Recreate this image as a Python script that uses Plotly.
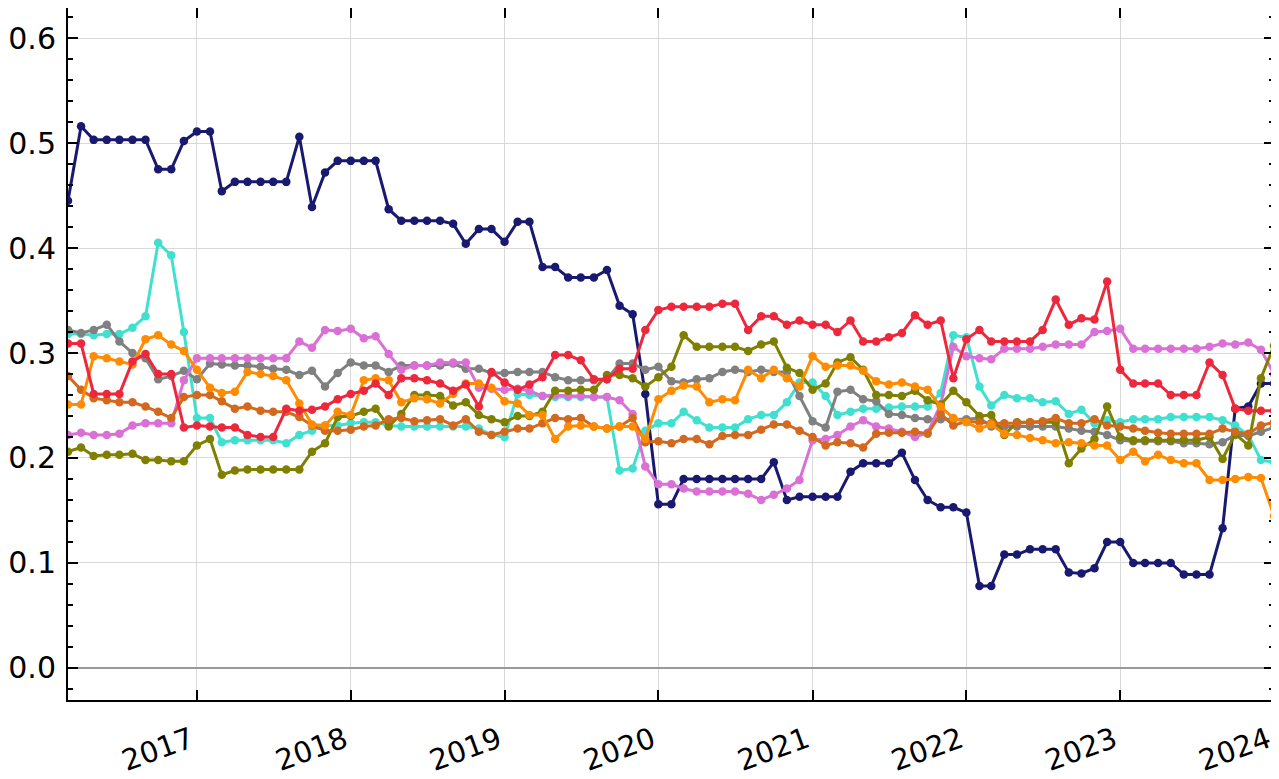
import pandas as pd
import plotly.graph_objects as go

dates = pd.date_range("2016-03-01", periods=95, freq="MS")
year_ticks = pd.date_range("2017-01-01", periods=8, freq="12MS")
year_labels = ["2017", "2018", "2019", "2020", "2021", "2022", "2023", "2024"]
y_ticks = [0.0, 0.1, 0.2, 0.3, 0.4, 0.5, 0.6]
y_labels = ["0.0", "0.1", "0.2", "0.3", "0.4", "0.5", "0.6"]

navy = [0.445,0.516,0.503,0.503,0.503,0.503,0.503,0.475,0.475,0.502,0.511,0.511,0.454,0.463,0.463,0.463,
        0.463,0.463,0.506,0.439,0.472,0.483,0.483,0.483,0.483,0.437,0.426,0.426,0.426,0.426,0.423,0.404,
        0.418,0.418,0.406,0.425,0.425,0.382,0.382,0.372,0.372,0.372,0.379,0.345,0.337,0.261,0.156,0.156,
        0.180,0.180,0.180,0.180,0.180,0.180,0.180,0.196,0.160,0.163,0.163,0.163,0.163,0.187,0.195,0.195,
        0.195,0.205,0.179,0.160,0.153,0.153,0.148,0.078,0.078,0.108,0.108,0.113,0.113,0.113,0.091,0.090,
        0.095,0.120,0.120,0.100,0.100,0.100,0.100,0.089,0.089,0.089,0.133,0.247,0.249,0.271,0.271]

turquoise = [0.318,0.318,0.317,0.318,0.318,0.324,0.335,0.405,0.393,0.320,0.238,0.238,0.215,0.217,0.217,0.217,
             0.217,0.214,0.222,0.226,0.231,0.231,0.233,0.234,0.234,0.231,0.230,0.230,0.230,0.230,0.230,0.230,
             0.228,0.222,0.220,0.261,0.260,0.259,0.258,0.258,0.258,0.258,0.258,0.188,0.190,0.226,0.233,0.233,
             0.244,0.236,0.229,0.229,0.229,0.237,0.241,0.241,0.253,0.272,0.272,0.259,0.241,0.244,0.247,0.247,
             0.248,0.249,0.249,0.249,0.262,0.317,0.315,0.268,0.250,0.260,0.257,0.257,0.253,0.254,0.242,0.246,
             0.233,0.236,0.234,0.237,0.237,0.237,0.239,0.239,0.239,0.239,0.236,0.231,0.222,0.198,0.196]

gray = [0.322,0.319,0.322,0.327,0.311,0.300,0.295,0.275,0.278,0.283,0.275,0.290,0.289,0.288,0.288,0.287,
        0.285,0.284,0.279,0.283,0.268,0.281,0.291,0.288,0.288,0.282,0.288,0.288,0.288,0.288,0.290,0.285,
        0.285,0.281,0.281,0.282,0.282,0.282,0.277,0.274,0.274,0.274,0.275,0.290,0.290,0.284,0.287,0.273,
        0.272,0.275,0.276,0.282,0.284,0.282,0.284,0.282,0.282,0.259,0.235,0.229,0.263,0.265,0.256,0.254,
        0.242,0.241,0.238,0.237,0.237,0.237,0.237,0.238,0.230,0.230,0.230,0.230,0.230,0.230,0.228,0.226,
        0.225,0.222,0.217,0.216,0.216,0.216,0.216,0.214,0.214,0.213,0.215,0.222,0.221,0.225,0.229]

red = [0.309,0.309,0.261,0.261,0.261,0.292,0.299,0.280,0.280,0.229,0.231,0.230,0.229,0.229,0.222,0.220,
       0.220,0.247,0.245,0.246,0.249,0.256,0.261,0.264,0.271,0.260,0.276,0.276,0.274,0.271,0.264,0.270,
       0.249,0.282,0.272,0.265,0.270,0.277,0.298,0.298,0.293,0.275,0.275,0.285,0.285,0.322,0.341,0.344,
       0.344,0.344,0.344,0.347,0.347,0.322,0.335,0.335,0.327,0.331,0.327,0.327,0.320,0.331,0.311,0.311,
       0.315,0.319,0.336,0.327,0.331,0.276,0.313,0.322,0.311,0.311,0.311,0.311,0.322,0.351,0.327,0.333,
       0.332,0.368,0.284,0.271,0.271,0.271,0.260,0.260,0.260,0.291,0.279,0.247,0.245,0.245,0.245]

orange = [0.251,0.251,0.297,0.295,0.292,0.289,0.313,0.317,0.308,0.302,0.284,0.267,0.262,0.263,0.282,0.280,
          0.278,0.274,0.252,0.232,0.231,0.244,0.241,0.274,0.276,0.274,0.253,0.257,0.256,0.252,0.261,0.271,
          0.271,0.267,0.254,0.252,0.241,0.241,0.218,0.230,0.231,0.230,0.228,0.230,0.230,0.218,0.256,0.264,
          0.269,0.268,0.253,0.256,0.255,0.284,0.276,0.284,0.276,0.268,0.297,0.287,0.288,0.288,0.283,0.273,
          0.270,0.272,0.268,0.265,0.249,0.238,0.234,0.228,0.232,0.223,0.222,0.219,0.217,0.214,0.215,0.214,
          0.212,0.212,0.198,0.206,0.197,0.203,0.198,0.195,0.195,0.179,0.179,0.180,0.182,0.181,0.145]

chocolate = [0.278,0.265,0.257,0.255,0.253,0.253,0.249,0.244,0.238,0.258,0.260,0.260,0.254,0.247,0.249,0.245,
             0.244,0.244,0.239,0.231,0.226,0.226,0.227,0.230,0.231,0.237,0.238,0.235,0.236,0.237,0.231,0.237,
             0.225,0.222,0.225,0.228,0.228,0.233,0.238,0.237,0.238,0.230,0.228,0.230,0.238,0.215,0.216,0.214,
             0.218,0.218,0.213,0.221,0.222,0.222,0.227,0.232,0.232,0.226,0.220,0.212,0.215,0.214,0.210,0.223,
             0.224,0.224,0.225,0.223,0.242,0.231,0.235,0.234,0.233,0.233,0.233,0.234,0.235,0.238,0.233,0.233,
             0.237,0.231,0.230,0.228,0.226,0.224,0.223,0.223,0.223,0.223,0.228,0.225,0.223,0.231,0.234]

orchid = [0.222,0.224,0.222,0.222,0.223,0.231,0.233,0.233,0.233,0.274,0.295,0.295,0.295,0.295,0.295,0.295,
          0.295,0.295,0.311,0.305,0.322,0.321,0.323,0.314,0.316,0.299,0.284,0.288,0.288,0.291,0.291,0.291,
          0.267,0.266,0.265,0.266,0.264,0.259,0.260,0.259,0.259,0.258,0.258,0.255,0.242,0.192,0.175,0.175,
          0.171,0.168,0.168,0.168,0.168,0.166,0.160,0.165,0.171,0.179,0.217,0.218,0.222,0.230,0.236,0.230,
          0.228,0.225,0.220,0.224,0.251,0.306,0.297,0.295,0.294,0.304,0.304,0.304,0.306,0.308,0.308,0.308,
          0.320,0.321,0.323,0.304,0.304,0.304,0.304,0.304,0.304,0.306,0.309,0.308,0.310,0.303,0.280]

olive = [0.206,0.210,0.202,0.203,0.203,0.204,0.198,0.198,0.197,0.197,0.212,0.218,0.184,0.188,0.189,0.189,
         0.189,0.189,0.189,0.206,0.214,0.239,0.240,0.244,0.247,0.230,0.242,0.260,0.260,0.259,0.250,0.253,
         0.241,0.237,0.234,0.240,0.240,0.244,0.264,0.264,0.265,0.265,0.279,0.279,0.276,0.268,0.277,0.287,
         0.317,0.306,0.306,0.306,0.306,0.302,0.308,0.311,0.286,0.281,0.265,0.271,0.291,0.296,0.284,0.260,
         0.260,0.259,0.264,0.255,0.251,0.264,0.253,0.240,0.241,0.222,0.234,0.234,0.234,0.234,0.195,0.209,
         0.218,0.249,0.220,0.217,0.217,0.217,0.217,0.217,0.217,0.220,0.199,0.223,0.212,0.276,0.307]

series = [
    ("navy", navy, "#191970"),
    ("turquoise", turquoise, "#40E0D0"),
    ("gray", gray, "#808080"),
    ("orchid", orchid, "#DA70D6"),
    ("olive", olive, "#808000"),
    ("chocolate", chocolate, "#D2691E"),
    ("orange", orange, "#FF8C00"),
    ("red", red, "#EE283C"),
]

fig = go.Figure()
for name, vals, col in series:
    fig.add_trace(go.Scatter(x=dates, y=vals, name=name, mode="lines+markers",
                             line=dict(color=col, width=3),
                             marker=dict(color=col, size=8.5)))

axis_common = dict(showline=True, linecolor="black", linewidth=2, mirror="allticks",
                   ticks="inside", tickcolor="black", tickwidth=1.5, automargin=False,
                   showgrid=True, gridcolor="#d9d9d9", gridwidth=1)

# page body has an 8px margin, so the figure is sized to fit the window
fig.update_layout(
    width=1271, height=771,
    margin=dict(l=60, r=5, t=0, b=79),
    paper_bgcolor="white", plot_bgcolor="white",
    showlegend=False,
    font=dict(family="DejaVu Sans", size=30, color="black"),
    xaxis=dict(range=[dates[0], dates[-1]], tickmode="array", tickvals=year_ticks, ticktext=year_labels,
               tickangle=-20, ticklen=10, zeroline=False, ticklabelstandoff=10, ticklabelshift=-6,
               ticklabeloverflow="allow", tickfont=dict(size=29),
               **axis_common),
    yaxis=dict(range=[-0.0305, 0.6286], tickmode="array", tickvals=y_ticks, ticktext=y_labels, ticklen=10,
               zeroline=True, zerolinecolor="#999999", zerolinewidth=1.5, ticklabelstandoff=4,
               minor=dict(ticks="inside", ticklen=5, dtick=0.02, tick0=0, tickcolor="black", showgrid=False),
               **axis_common),
)

fig.write_html("out.html")
